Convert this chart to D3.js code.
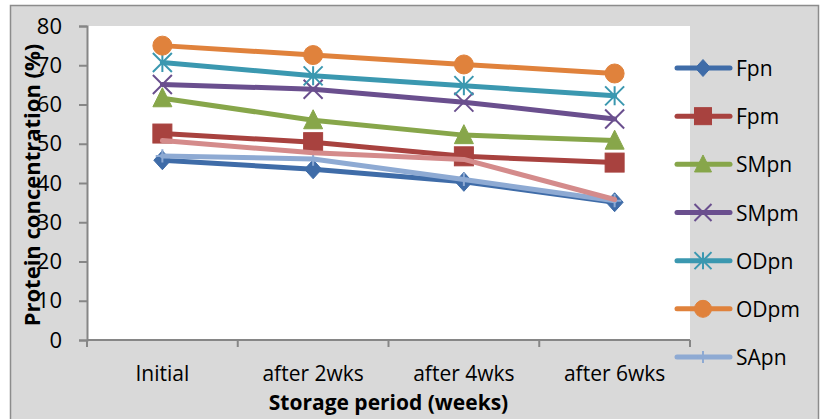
<!DOCTYPE html>
<html>
<head>
<meta charset="utf-8">
<script src="https://cdn.jsdelivr.net/npm/d3@7"></script>
<style>
  html, body { margin: 0; padding: 0; background: #ffffff; }
  svg { display: block; }
  text { font-family: "Open Sans", "Noto Sans", sans-serif; fill: #000; }
</style>
</head>
<body>
<div id="chart"></div>
<script>
// Storage periods on the x axis
const categories = ["Initial", "after 2wks", "after 4wks", "after 6wks"];

// Protein concentration (%) per sample, one value per storage period
const Fpn  = [45.8, 43.5, 40.3, 35.1];
const Fpm  = [52.6, 50.4, 46.8, 45.2];
const SMpn = [61.6, 56.0, 52.2, 50.8];
const SMpm = [65.1, 63.9, 60.6, 56.3];
const ODpn = [70.7, 67.3, 64.8, 62.2];
const ODpm = [75.0, 72.6, 70.2, 67.9];
const SApn = [46.9, 46.1, 40.9, 35.5];
const SApm = [50.8, 47.7, 46.0, 35.8];

const yTicks = [0, 10, 20, 30, 40, 50, 60, 70, 80];

const seriesNames = ["Fpn", "Fpm", "SMpn", "SMpm", "ODpn", "ODpm", "SApn", "SApm"];
const seriesValues = [Fpn, Fpm, SMpn, SMpm, ODpn, ODpm, SApn, SApm];
const seriesColors = ["#3f6ca8", "#a8423f", "#87a64a", "#6a4f8e", "#3b98b0", "#e0823c", "#8eaad3", "#d48b8b"];
const seriesMarkers = ["diamond", "square", "triangle", "x", "asterisk", "circle", "plus", "none"];
const inLegend = [true, true, true, true, true, true, true, false];

const series = seriesNames.map((name, i) => ({
  name, values: seriesValues[i], color: seriesColors[i], marker: seriesMarkers[i], legend: inLegend[i]
}));

const W = 821, H = 419;
const plot = { left: 87, right: 690, top: 26, bottom: 340 };

const svg = d3.select("#chart").append("svg").attr("width", W).attr("height", H);

// Chart area background and frame
svg.append("rect")
  .attr("x", 10.5).attr("y", 5.5).attr("width", 808).attr("height", 430)
  .attr("fill", "#d9d9d9").attr("stroke", "#8c8c8c").attr("stroke-width", 1.5);

// Plot area
svg.append("rect")
  .attr("x", plot.left).attr("y", plot.top)
  .attr("width", plot.right - plot.left).attr("height", plot.bottom - plot.top)
  .attr("fill", "#ffffff");

const x = d3.scaleBand().domain(categories).range([plot.left, plot.right]).padding(0);
const y = d3.scaleLinear().domain([0, 80]).range([plot.bottom, plot.top]);
const cx = c => x(c) + x.bandwidth() / 2;

// Y axis
const yAxis = svg.append("g").attr("transform", `translate(${plot.left},0)`)
  .call(d3.axisLeft(y).tickValues(yTicks).tickSize(8).tickPadding(17).tickFormat(d3.format("d")));
yAxis.select(".domain").attr("stroke", "#868686").attr("stroke-width", 2);
yAxis.selectAll(".tick line").attr("stroke", "#868686").attr("stroke-width", 2);
yAxis.selectAll(".tick text").attr("font-size", 22).attr("fill", "#000")
  .attr("font-family", "'Open Sans', sans-serif");

// X axis: ticks sit on category boundaries
const xAxis = svg.append("g").attr("transform", `translate(0,${plot.bottom})`);
xAxis.append("line")
  .attr("x1", plot.left).attr("x2", plot.right)
  .attr("stroke", "#868686").attr("stroke-width", 2);
const boundaries = categories.map(c => x(c)).concat([x(categories[categories.length - 1]) + x.bandwidth()]);
xAxis.selectAll("line.tick").data(boundaries).join("line").attr("class", "tick")
  .attr("x1", d => d).attr("x2", d => d).attr("y1", 0).attr("y2", 7)
  .attr("stroke", "#868686").attr("stroke-width", 2);
xAxis.selectAll("text.cat").data(categories).join("text").attr("class", "cat")
  .attr("x", d => cx(d)).attr("y", 41)
  .attr("text-anchor", "middle").attr("font-size", 21)
  .text(d => d);

// Axis titles
svg.append("text")
  .attr("transform", `translate(31,${(plot.top + plot.bottom) / 2 + 2}) rotate(-90)`)
  .attr("text-anchor", "middle").attr("dominant-baseline", "central")
  .attr("font-size", 22).attr("font-weight", "bold")
  .text("Protein concentration (%)");

svg.append("text")
  .attr("x", (plot.left + plot.right) / 2).attr("y", 410)
  .attr("text-anchor", "middle").attr("font-size", 21).attr("font-weight", "bold")
  .text("Storage period (weeks)");

// Marker shapes, centred on (0,0)
function drawMarker(g, type, color, s) {
  const h = s / 2;
  if (type === "diamond") {
    g.append("path").attr("d", `M0,${-h} L${h * 0.9},0 L0,${h} L${-h * 0.9},0 Z`)
      .attr("fill", color).attr("stroke", color).attr("stroke-width", 1);
  } else if (type === "square") {
    g.append("rect").attr("x", -h).attr("y", -h).attr("width", s).attr("height", s)
      .attr("fill", color).attr("stroke", color).attr("stroke-width", 1);
  } else if (type === "triangle") {
    g.append("path").attr("d", `M0,${-h * 1.1} L${h},${h * 0.9} L${-h},${h * 0.9} Z`)
      .attr("fill", color).attr("stroke", color).attr("stroke-width", 1);
  } else if (type === "circle") {
    g.append("circle").attr("r", h).attr("fill", color).attr("stroke", color).attr("stroke-width", 1);
  } else if (type === "x") {
    g.append("path").attr("d", `M${-h},${-h} L${h},${h} M${h},${-h} L${-h},${h}`)
      .attr("stroke", color).attr("stroke-width", 2).attr("fill", "none");
  } else if (type === "asterisk") {
    g.append("path").attr("d", `M${-h},${-h} L${h},${h} M${h},${-h} L${-h},${h} M0,${-h} L0,${h}`)
      .attr("stroke", color).attr("stroke-width", 2).attr("fill", "none");
  } else if (type === "plus") {
    const p = h * 0.7;
    g.append("path").attr("d", `M${-p},0 L${p},0 M0,${-p} L0,${p}`)
      .attr("stroke", color).attr("stroke-width", 2).attr("fill", "none");
  }
}

const line = d3.line().x(d => cx(d.cat)).y(d => y(d.v));

// Series lines and markers
series.forEach(s => {
  const pts = s.values.map((v, i) => ({ cat: categories[i], v }));
  const g = svg.append("g");
  g.append("path").datum(pts)
    .attr("d", line).attr("fill", "none")
    .attr("stroke", s.color).attr("stroke-width", 5)
    .attr("stroke-linecap", "round").attr("stroke-linejoin", "round");
  pts.forEach(p => {
    const m = g.append("g").attr("transform", `translate(${cx(p.cat)},${y(p.v)})`);
    drawMarker(m, s.marker, s.color, 19);
  });
});

// Legend
const legend = svg.append("g");
const legendItems = series.filter(s => s.legend);
const legendY = d3.scalePoint().domain(legendItems.map(s => s.name)).range([68, 357]);
legendItems.forEach(s => {
  const g = legend.append("g").attr("transform", `translate(0,${legendY(s.name)})`);
  g.append("line").attr("x1", 677).attr("x2", 730)
    .attr("stroke", s.color).attr("stroke-width", 5).attr("stroke-linecap", "round");
  const m = g.append("g").attr("transform", "translate(703,0)");
  drawMarker(m, s.marker, s.color, 17);
  g.append("text").attr("x", 736).attr("y", 0).attr("dominant-baseline", "central")
    .attr("font-size", 21).text(s.name);
});
</script>
</body>
</html>
